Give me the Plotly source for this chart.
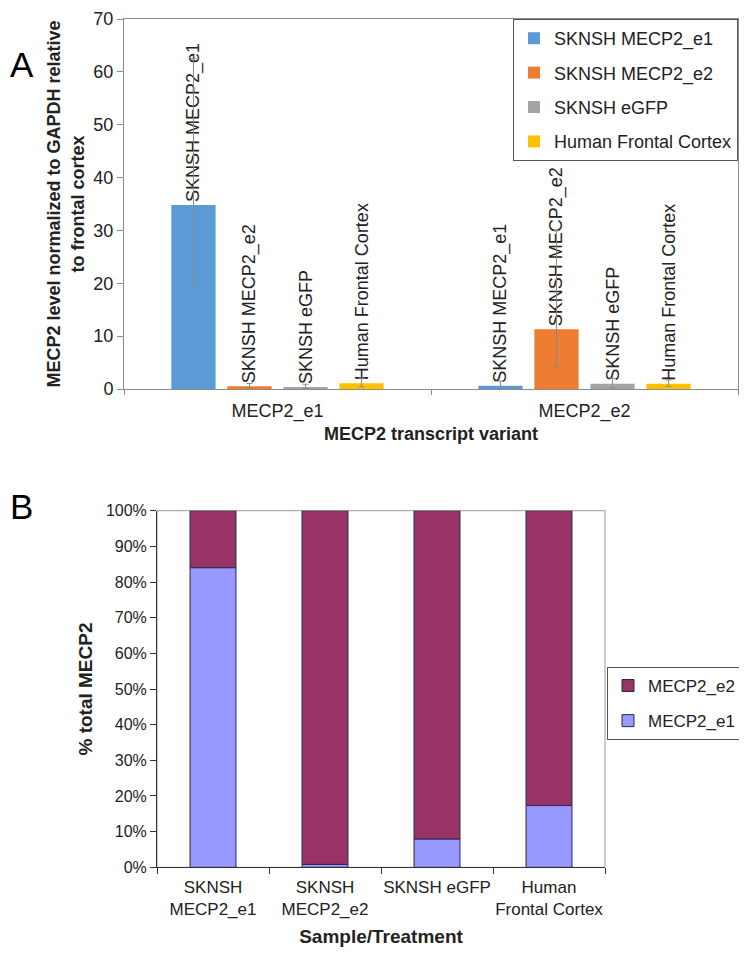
import plotly.graph_objects as go

# The page body keeps a default 8px margin, so the figure is 16px smaller than
# the window and reference pixel positions are shifted by 8px.
W, H = 731, 939
OFF = 8


def xp(px):
    return (px - OFF) / W


def yp(py):
    return 1 - (py - OFF) / H


# ---------------- Panel A data ----------------
variants = ["MECP2_e1", "MECP2_e2"]
samples = ["SKNSH MECP2_e1", "SKNSH MECP2_e2", "SKNSH eGFP", "Human Frontal Cortex"]

sknsh_e1 = [34.8, 0.6]
sknsh_e1_plus = [27.7, 0.9]
sknsh_e1_minus = [15.3, 0.6]

sknsh_e2 = [0.5, 11.3]
sknsh_e2_plus = [0.55, 18.7]
sknsh_e2_minus = [0.3, 7.1]

sknsh_egfp = [0.35, 1.0]
sknsh_egfp_plus = [0.55, 1.0]
sknsh_egfp_minus = [0.25, 0.8]

frontal_cortex = [1.1, 1.0]
frontal_cortex_plus = [1.0, 0.7]
frontal_cortex_minus = [0.7, 0.5]

# ---------------- Panel B data ----------------
b_categories = ["SKNSH<br>MECP2_e1", "SKNSH<br>MECP2_e2", "SKNSH eGFP", "Human<br>Frontal Cortex"]
pct_e1 = [0.84, 0.008, 0.079, 0.173]
pct_e2 = [0.16, 0.992, 0.921, 0.827]

colors_a = ["#5B9BD5", "#ED7D31", "#A5A5A5", "#FFC000"]
FONT = "Liberation Sans, Arial, sans-serif"

fig = go.Figure()

series_a = [
    (sknsh_e1, sknsh_e1_plus, sknsh_e1_minus),
    (sknsh_e2, sknsh_e2_plus, sknsh_e2_minus),
    (sknsh_egfp, sknsh_egfp_plus, sknsh_egfp_minus),
    (frontal_cortex, frontal_cortex_plus, frontal_cortex_minus),
]
for name, color, (vals, plus, minus) in zip(samples, colors_a, series_a):
    fig.add_trace(go.Bar(
        x=variants, y=vals, name=name,
        marker=dict(color=color, line=dict(width=0)),
        error_y=dict(type="data", symmetric=False, array=plus, arrayminus=minus,
                     color="#8a8a8a", thickness=1, width=3),
        text=[name] * len(variants), textposition="outside", textangle=-90,
        textfont=dict(size=18, color="#222", family=FONT), constraintext="none",
        cliponaxis=False,
        xaxis="x", yaxis="y", legend="legend", legendgroup=name,
    ))

# stacked composition: e2 segment sits on top of e1 segment (base = e1 share)
fig.add_trace(go.Bar(
    x=b_categories, y=pct_e2, base=pct_e1, name="MECP2_e2",
    marker=dict(color="#993366", line=dict(color="#26264d", width=1)),
    width=0.41, offsetgroup="b", xaxis="x2", yaxis="y2",
    legend="legend2", legendgroup="e2",
))
fig.add_trace(go.Bar(
    x=b_categories, y=pct_e1, name="MECP2_e1",
    marker=dict(color="#9999FF", line=dict(color="#26264d", width=1)),
    width=0.41, offsetgroup="b", xaxis="x2", yaxis="y2",
    legend="legend2", legendgroup="e1",
))

fig.update_layout(
    width=W, height=H,
    margin=dict(l=0, r=0, t=0, b=0, autoexpand=False),
    paper_bgcolor="white", plot_bgcolor="white",
    barmode="group", bargap=0.27, bargroupgap=0.21,
    font=dict(family=FONT, color="#222"),
    showlegend=True,
    xaxis=dict(
        domain=[xp(124), xp(738)], anchor="y", automargin=False,
        showline=True, linecolor="#8c8c8c", mirror=True,
        ticks="outside", tickson="boundaries", ticklen=5, tickcolor="#8c8c8c",
        tickfont=dict(size=18), showgrid=False, tickangle=0, ticklabelstandoff=5,
        title=dict(text="<b>MECP2 transcript variant</b>", font=dict(size=18), standoff=6),
    ),
    yaxis=dict(
        domain=[yp(389), yp(19)], anchor="x", automargin=False,
        range=[0, 70], dtick=10,
        showline=True, linecolor="#8c8c8c", mirror=True,
        ticks="outside", ticklen=6, tickcolor="#8c8c8c",
        tickfont=dict(size=18), showgrid=False, zeroline=False,
        title=dict(text="<b>MECP2 level normalized to GAPDH relative<br>to frontal cortex</b>",
                   font=dict(size=18), standoff=4),
    ),
    xaxis2=dict(
        domain=[xp(157), xp(605)], anchor="y2", automargin=False,
        showline=True, linecolor="#333", mirror=False,
        ticks="outside", tickson="boundaries", ticklen=6, tickcolor="#333",
        tickfont=dict(size=17), showgrid=False, tickangle=0, ticklabelstandoff=4,
        title=dict(text="<b>Sample/Treatment</b>", font=dict(size=19), standoff=14),
    ),
    yaxis2=dict(
        domain=[yp(867.3), yp(510.7)], anchor="x2", automargin=False,
        range=[0, 1], dtick=0.1, tickformat=".0%",
        showline=True, linecolor="#333", mirror=False,
        ticks="outside", ticklen=6, tickcolor="#333",
        tickfont=dict(size=16), showgrid=False, zeroline=False,
        title=dict(text="<b>% total MECP2</b>", font=dict(size=19), standoff=8),
    ),
    legend=dict(
        x=xp(738), xanchor="right", y=yp(19), yanchor="top",
        bordercolor="#555", borderwidth=1, bgcolor="white",
        font=dict(size=18), tracegroupgap=8, itemwidth=30,
    ),
    legend2=dict(
        x=xp(607), xanchor="left", y=yp(667), yanchor="top",
        bordercolor="#555", borderwidth=1, bgcolor="white",
        font=dict(size=17), tracegroupgap=10, itemwidth=30,
    ),
    shapes=[dict(type="rect", xref="x2 domain", yref="y2 domain", x0=0, x1=1, y0=0, y1=1,
                 line=dict(color="#999", width=1), layer="below")],
    annotations=[
        dict(text="A", x=xp(8), y=yp(64.5), xref="paper", yref="paper",
             xanchor="left", yanchor="middle",
             showarrow=False, font=dict(size=35, color="black", family=FONT)),
        dict(text="B", x=xp(21.7), y=yp(506.5), xref="paper", yref="paper",
             xanchor="center", yanchor="middle",
             showarrow=False, font=dict(size=35, color="black",
                                        family="Liberation Sans Narrow, Liberation Sans, Arial")),
    ],
)

fig.write_html("out.html")
